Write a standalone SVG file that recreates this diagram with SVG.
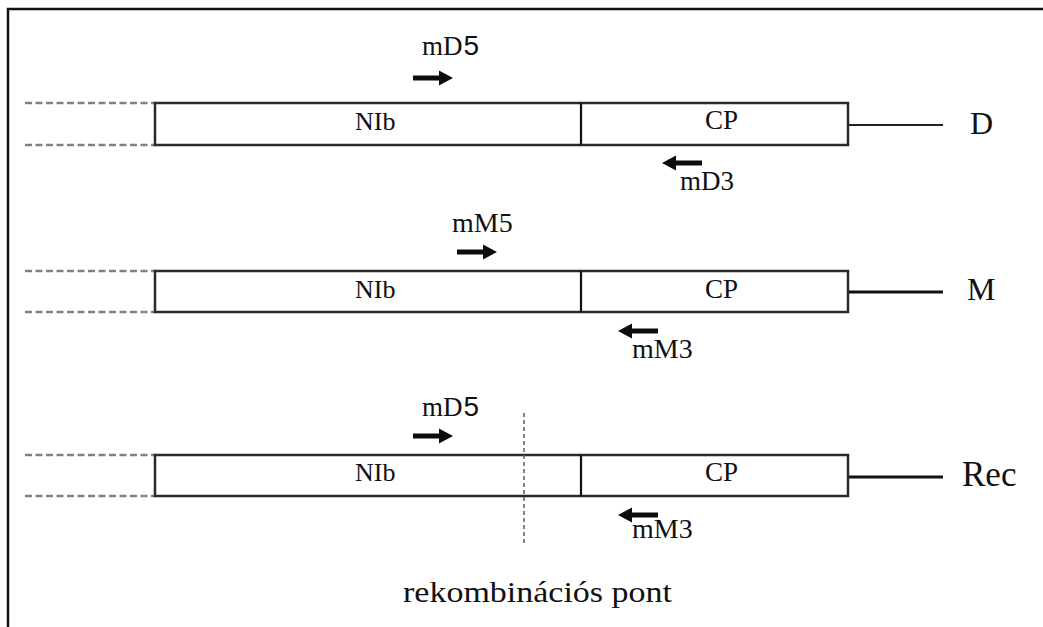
<svg xmlns="http://www.w3.org/2000/svg" width="1043" height="627" viewBox="0 0 1043 627">
  <style>
    .frame { fill: none; stroke: #111; stroke-width: 2.5; }
    .box { fill: #fff; stroke: #2a2a2a; stroke-width: 2.5; }
    .div { stroke: #111; stroke-width: 2.2; }
    .dash { stroke: #808080; stroke-width: 2.4; stroke-dasharray: 7 3.5; }
    .tail-thin { stroke: #222; stroke-width: 1.8; }
    .tail-bold { stroke: #111; stroke-width: 3.2; }
    .dot { stroke: #666; stroke-width: 1.6; stroke-dasharray: 4 3; }
    .lbl { font-family: "Liberation Serif", "Times New Roman", serif; fill: #111; }
    .sans { font-family: "Liberation Sans", Arial, sans-serif; }
  </style>
  <defs>
    <!-- primer arrow pointing right, 40 px long, origin at tail centre -->
    <path id="arr" d="M0,-2.6 H26 V-7.5 L40,0 L26,7.5 V2.6 H0 Z" fill="#0d0d0d"/>
  </defs>

  <rect width="1043" height="627" fill="#fff"/>
  <path class="frame" d="M8,627 V9 H1043"/>

  <!-- connectors: flanking dashed lines and 3' tails -->
  <g id="connectors">
    <line class="dash" x1="25" y1="103" x2="155" y2="103"/>
    <line class="dash" x1="25" y1="145" x2="155" y2="145"/>
    <line class="tail-thin" x1="848" y1="125" x2="943" y2="125"/>

    <line class="dash" x1="25" y1="271" x2="155" y2="271"/>
    <line class="dash" x1="25" y1="312" x2="155" y2="312"/>
    <line class="tail-bold" x1="848" y1="292" x2="943" y2="292"/>

    <line class="dash" x1="25" y1="455" x2="155" y2="455"/>
    <line class="dash" x1="25" y1="496" x2="155" y2="496"/>
    <line class="tail-bold" x1="848" y1="477" x2="943" y2="477"/>
  </g>

  <!-- genome D -->
  <g id="row-D">
    <rect class="box" x="155" y="103" width="693" height="42"/>
    <line class="div" x1="581" y1="103" x2="581" y2="145"/>
    <text class="lbl" x="355" y="130" font-size="26">NIb</text>
    <text class="lbl" x="705" y="129" font-size="27">CP</text>
    <text class="lbl" x="970" y="134" font-size="32">D</text>
    <text class="lbl" x="422" y="55" font-size="27">mD<tspan class="sans" font-size="28" dx="1">5</tspan></text>
    <use href="#arr" x="413" y="78"/>
    <use href="#arr" transform="translate(702,163) scale(-1,1)"/>
    <text class="lbl" x="680" y="190" font-size="27">mD3</text>
  </g>

  <!-- genome M -->
  <g id="row-M">
    <rect class="box" x="155" y="271" width="693" height="41"/>
    <line class="div" x1="581" y1="271" x2="581" y2="312"/>
    <text class="lbl" x="355" y="298" font-size="26">NIb</text>
    <text class="lbl" x="705" y="298" font-size="27">CP</text>
    <text class="lbl" x="967" y="300" font-size="32">M</text>
    <text class="lbl" x="452" y="232" font-size="28">mM5</text>
    <use href="#arr" x="457" y="252"/>
    <use href="#arr" transform="translate(658,331) scale(-1,1)"/>
    <text class="lbl" x="632" y="358" font-size="28">mM3</text>
  </g>

  <!-- recombinant -->
  <g id="row-Rec">
    <rect class="box" x="155" y="455" width="693" height="41"/>
    <line class="div" x1="581" y1="455" x2="581" y2="496"/>
    <text class="lbl" x="355" y="481" font-size="26">NIb</text>
    <text class="lbl" x="705" y="481" font-size="27">CP</text>
    <text class="lbl" x="962" y="486" font-size="35">Rec</text>
    <text class="lbl" x="422" y="416" font-size="27">mD<tspan class="sans" font-size="28" dx="1">5</tspan></text>
    <use href="#arr" x="413" y="436"/>
    <use href="#arr" transform="translate(658,515) scale(-1,1)"/>
    <text class="lbl" x="632" y="538" font-size="28">mM3</text>
  </g>

  <!-- recombination point -->
  <g id="recomb-point">
    <line class="dot" x1="524" y1="413" x2="524" y2="545"/>
    <text class="lbl" x="403" y="602" font-size="30" textLength="269" lengthAdjust="spacingAndGlyphs">rekombinációs pont</text>
  </g>
</svg>
